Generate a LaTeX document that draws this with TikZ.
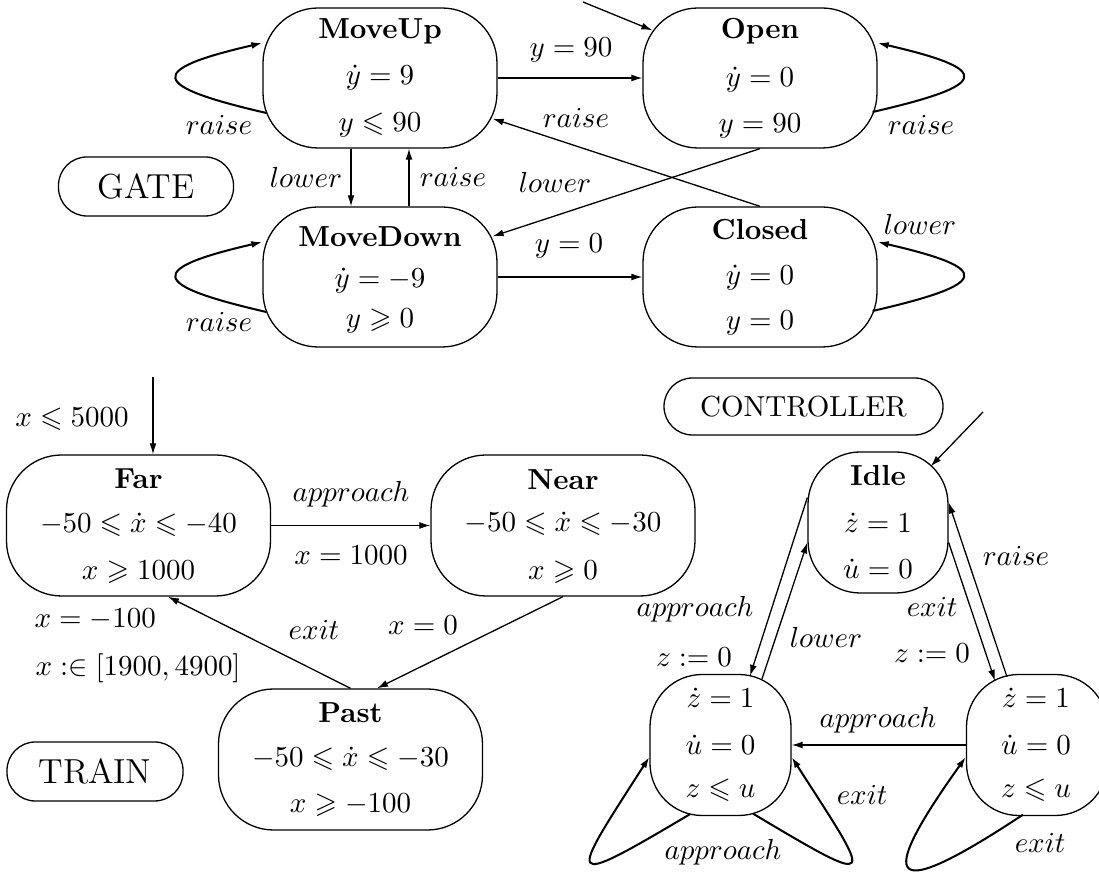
\documentclass[tikz,border=0pt]{standalone}
\usepackage{amssymb}
\usetikzlibrary{arrows.meta,calc}
\tikzset{
  stbox/.style={draw, rounded corners=19pt, inner sep=0pt, line width=0.45pt},
  gst/.style={stbox, minimum width=234*0.345pt, minimum height=140*0.345pt},
  tst/.style={stbox, minimum width=264*0.345pt, minimum height=141*0.345pt},
  cst/.style={stbox, rounded corners=18pt, minimum width=141*0.345pt, minimum height=141*0.345pt},
  pill/.style={draw, rounded corners=9.8pt, inner sep=0pt, line width=0.45pt},
  txt/.style={anchor=base, inner sep=0pt},
  lab/.style={anchor=base, inner sep=0pt},
  arr/.style={-{Latex[length=3.8pt,width=2.4pt]}, line width=0.45pt},
  larr/.style={-{Latex[length=3.8pt,width=2.4pt]}, line width=0.7pt},
}
\begin{document}
\begin{tikzpicture}[x=0.345pt, y=-0.345pt]
\useasboundingbox (0,0) rectangle (1099,874);
% ---------------- GATE ----------------
\node[gst] (mu) at (380,78) {};
\node[gst] (op) at (760,78) {};
\node[gst] (md) at (380,277) {};
\node[gst] (cl) at (760,277) {};
\node[txt] (mut) at (380,39) {\textbf{MoveUp}};
\node[txt] (mu1) at (380,85) {$\dot y = 9$};
\node[txt] (mu2) at (380,132) {$y \leqslant 90$};
\node[txt] (opt) at (760,39) {\textbf{Open}};
\node[txt] (op1) at (760,87) {$\dot y = 0$};
\node[txt] (op2) at (760,133) {$y = 90$};
\node[txt] (mdt) at (380,247) {\textbf{MoveDown}};
\node[txt] (md1) at (380,288) {$\dot y = -9$};
\node[txt] (md2) at (380,328) {$y \geqslant 0$};
\node[txt] (clt) at (760,240) {\textbf{Closed}};
\node[txt] (cl1) at (760,285) {$\dot y = 0$};
\node[txt] (cl2) at (760,330) {$y = 0$};
\node[pill, minimum width=175*0.345pt, minimum height=59*0.345pt] (gate) at (146,186.5) {\large GATE};

\coordinate (gi) at (583,2);
\draw[arr] (gi) -- ($(op.north west)+(10,23)$);
\draw[arr] (mu.east) -- (op.west);
\draw[arr] ($(mu.south)+(-29,0)$) -- ($(md.north)+(-29,0)$);
\draw[arr] ($(md.north)+(29,0)$) -- ($(mu.south)+(29,0)$);
\draw[arr] (cl.north) -- ($(mu.south east)+(-5,-30)$);
\draw[arr] (op.south) -- ($(md.north east)+(-5,30)$);
\draw[arr] (md.east) -- (cl.west);
\draw[larr] ($(mu.west)+(4,35)$) .. controls ($(mu.west)+(-113,8)$) and ($(mu.west)+(-117,-8)$) .. ($(mu.west)+(0,-35)$);
\draw[larr] ($(md.west)+(4,35)$) .. controls ($(md.west)+(-113,8)$) and ($(md.west)+(-117,-8)$) .. ($(md.west)+(0,-35)$);
\draw[larr] ($(op.east)+(-5,34)$) .. controls ($(op.east)+(112,7)$) and ($(op.east)+(117,-8)$) .. ($(op.east)+(0,-35)$);
\draw[larr] ($(cl.east)+(-5,34)$) .. controls ($(cl.east)+(112,7)$) and ($(cl.east)+(117,-8)$) .. ($(cl.east)+(0,-35)$);

\node[lab] (g1) at (571,57) {$y = 90$};
\node[lab] (g2) at (219,135) {$raise$};
\node[lab] (g3) at (306,188) {$lower$};
\node[lab] (g4) at (453,187) {$raise$};
\node[lab] (g5) at (576,128) {$raise$};
\node[lab] (g6) at (555,193) {$lower$};
\node[lab] (g7) at (569,253) {$y = 0$};
\node[lab] (g8) at (219,332) {$raise$};
\node[lab] (g9) at (921,135) {$raise$};
\node[lab] (g10) at (920,235) {$lower$};

% ---------------- TRAIN ----------------
\node[tst] (far) at (138.5,525.5) {};
\node[tst] (near) at (563,525.5) {};
\node[tst] (past) at (350.5,759.5) {};
\node[txt] (fart) at (138.5,489) {\textbf{Far}};
\node[txt] (far1) at (138.5,533) {$-50 \leqslant \dot x \leqslant -40$};
\node[txt] (far2) at (138.5,580) {$x \geqslant 1000$};
\node[txt] (neart) at (563,490) {\textbf{Near}};
\node[txt] (near1) at (563,532) {$-50 \leqslant \dot x \leqslant -30$};
\node[txt] (near2) at (563,580) {$x \geqslant 0$};
\node[txt] (pastt) at (350.5,723) {\textbf{Past}};
\node[txt] (past1) at (350.5,767) {$-50 \leqslant \dot x \leqslant -30$};
\node[txt] (past2) at (350.5,813) {$x \geqslant -100$};
\node[pill, minimum width=176*0.345pt, minimum height=59*0.345pt] (train) at (95,771.5) {\large TRAIN};

\coordinate (ti) at (153,377);
\draw[arr] (ti) -- ($(far.north)+(14.5,0)$);
\draw[arr] (far.east) -- (near.west);
\draw[arr] (near.south) -- ($(past.north)+(26.5,0)$);
\draw[arr] (past.north) -- ($(far.south)+(29.5,0)$);

\node[lab] (t1) at (72,427) {$x \leqslant 5000$};
\node[lab] (t2) at (351,502) {$approach$};
\node[lab] (t3) at (351,565) {$x = 1000$};
\node[lab] (t4) at (314,640) {$exit$};
\node[lab] (t5) at (423,635) {$x = 0$};
\node[lab, anchor=base west] (t6) at (34,628) {$x = -100$};
\node[lab, anchor=base west] (t7) at (35,676) {$x :\in [1900, 4900]$};

% ---------------- CONTROLLER ----------------
\node[pill, minimum width=279*0.345pt, minimum height=57*0.345pt] (ctrl) at (803.5,406.5) {CONTROLLER};
\node[cst, minimum width=140*0.345pt] (idle) at (878,522.5) {};
\node[cst] (cL) at (720.5,745) {};
\node[cst] (cR) at (1037,745) {};
\node[txt] (idlet) at (878,486) {\textbf{Idle}};
\node[txt] (idle1) at (878,533) {$\dot z = 1$};
\node[txt] (idle2) at (878,579) {$\dot u = 0$};
\node[txt] (cL1) at (720.5,708) {$\dot z = 1$};
\node[txt] (cL2) at (720.5,755) {$\dot u = 0$};
\node[txt] (cL3) at (720.5,798) {$z \leqslant u$};
\node[txt] (cR1) at (1036,708) {$\dot z = 1$};
\node[txt] (cR2) at (1036,755) {$\dot u = 0$};
\node[txt] (cR3) at (1036,798) {$z \leqslant u$};

\coordinate (ci) at (983,412);
\draw[arr] (ci) -- ($(idle.north east)+(-18,15)$);
\draw[arr] ($(idle.west)+(0,-25)$) -- ($(cL.north)+(29.5,2)$);
\draw[arr] ($(cL.north)+(41.5,5)$) -- ($(idle.west)+(0,20)$);
\draw[arr] ($(idle.east)+(0,20)$) -- ($(cR.north)+(-42,7)$);
\draw[arr] ($(cR.north)+(-30,3)$) -- ($(idle.east)+(0,-20)$);
\draw[arr] (cR.west) -- (cL.east);
\draw[larr] ($(cL.south)+(-30.5,-2)$) .. controls ($(cL.south)+(-159.5,74.5)$) and ($(cL.west)+(-81,138)$) .. ($(cL.west)+(0,12)$);
\draw[larr] ($(cL.south)+(32.5,-2.5)$) .. controls ($(cL.south)+(161.5,74.5)$) and ($(cL.east)+(81,138)$) .. ($(cL.east)+(0,12)$);
\draw[larr] ($(cR.south)+(-14,-1.5)$) .. controls ($(cR.south)+(-147,86.5)$) and ($(cR.west)+(-93,142)$) .. ($(cR.west)+(0,12)$);

\node[lab] (c1) at (695,617) {$approach$};
\node[lab] (c2) at (694,667) {$z := 0$};
\node[lab] (c3) at (826,648) {$lower$};
\node[lab] (c4) at (932,617) {$exit$};
\node[lab] (c5) at (932,663) {$z := 0$};
\node[lab] (c6) at (1016,566) {$raise$};
\node[lab] (c7) at (878,728) {$approach$};
\node[lab] (c8) at (862,805) {$exit$};
\node[lab] (c9) at (723,860) {$approach$};
\node[lab] (c10) at (1040,853) {$exit$};
\end{tikzpicture}
\end{document}
